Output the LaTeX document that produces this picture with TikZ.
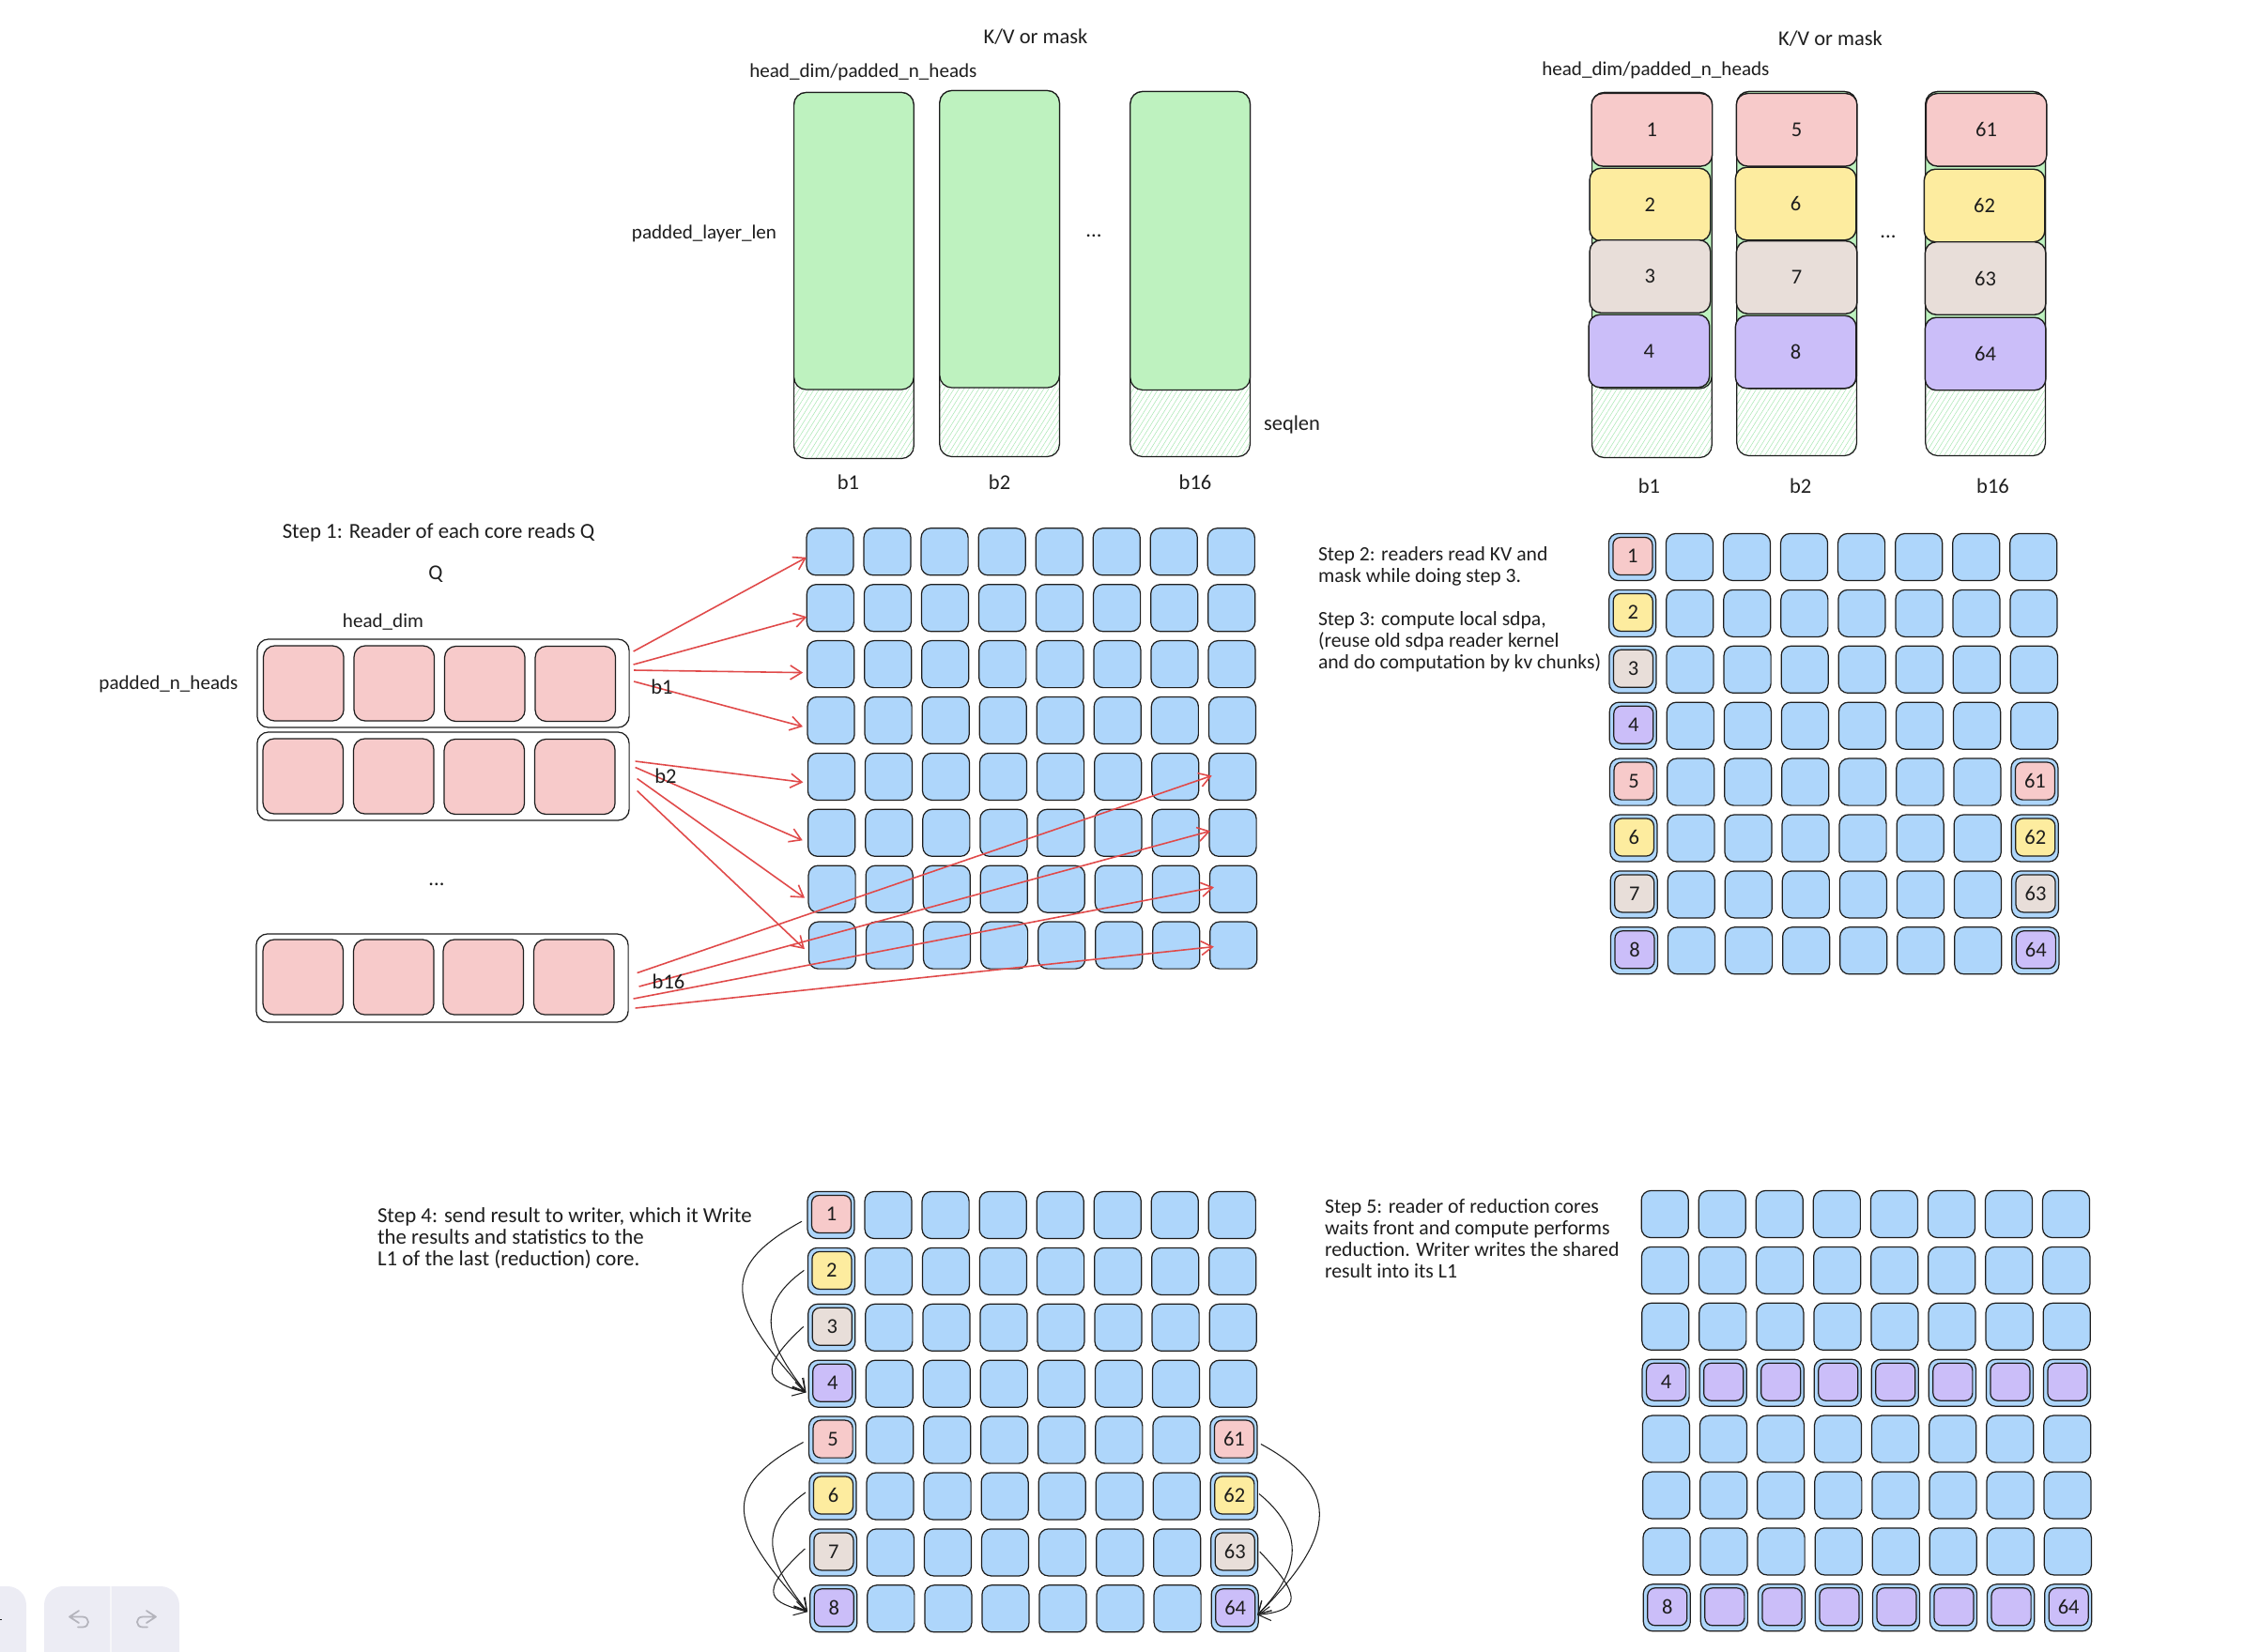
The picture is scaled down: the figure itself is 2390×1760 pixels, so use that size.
\documentclass[tikz,border=0pt]{standalone}
\usepackage{fontspec}
\setmainfont{Carlito}
\usetikzlibrary{arrows.meta,patterns.meta}

\definecolor{inkdark}{HTML}{1E1E1E}
\definecolor{corered}{HTML}{E04A4A}
\definecolor{coreblue}{HTML}{AED6FB}
\definecolor{cpink}{HTML}{F7CACA}
\definecolor{cyellow}{HTML}{FDEC9F}
\definecolor{cgrey}{HTML}{E8DED9}
\definecolor{cpurple}{HTML}{CBBEF9}
\definecolor{cgreen}{HTML}{BEF2BF}
\definecolor{chatch}{HTML}{A8E6B2}
\definecolor{uipanel}{HTML}{ECECF4}
\definecolor{uiicon}{HTML}{B4B4BC}

\newcommand{\coregrid}[4]{%
    \foreach \r in {1,...,8}{
        \foreach \c in {1,...,8}{
            \node[corecell] (#1-\r-\c) at ({#2+25+61.05*(\c-1)+#4*(\r-1)},{#3+25+59.9*(\r-1)}) {};
        }
    }
}

\begin{document}
\begin{tikzpicture}[x=0.01cm,y=-0.01cm,
    every node/.style={text=inkdark,font=\fontsize{6.4}{6.55}\selectfont,inner sep=0pt,outer sep=0pt},
    dimname/.style={font=\fontsize{6}{6.55}\selectfont},
    corecell/.style={draw=inkdark,line width=0.35pt,fill=coreblue,rounded corners=0.1cm,minimum width=0.5cm,minimum height=0.5cm},
    innercell/.style={draw=inkdark,line width=0.35pt,rounded corners=0.08cm,minimum width=0.42cm,minimum height=0.4cm},
    padbar/.style={draw=inkdark,line width=0.35pt,rounded corners=0.13cm,minimum width=1.275cm,pattern={Lines[angle=58,distance=0.045cm,line width=0.15pt]},pattern color=chatch},
    fillbar/.style={draw=inkdark,line width=0.35pt,fill=cgreen,rounded corners=0.13cm,minimum width=1.275cm},
    headblock/.style={draw=inkdark,line width=0.4pt,rounded corners=0.12cm,minimum width=1.285cm,minimum height=0.775cm},
    qouter/.style={draw=inkdark,line width=0.35pt,fill=white,rounded corners=0.12cm,minimum width=3.96cm,minimum height=0.94cm},
    qinner/.style={draw=inkdark,line width=0.35pt,fill=cpink,rounded corners=0.12cm,minimum width=0.855cm,minimum height=0.8cm},
    stepnote/.style={anchor=north west,align=left},
    redarrow/.style={draw=corered,line width=0.45pt,-{Straight Barb[length=1.2mm,width=1.5mm]}},
    inkarrow/.style={draw=inkdark,line width=0.3pt,-{Straight Barb[length=1.3mm,width=1.5mm]}},
    uistroke/.style={draw=uiicon,line width=0.5pt,line cap=round,line join=round}]

    \useasboundingbox (0,0) rectangle (2390,1760);

    % K/V bars, left one empty and right one split in chunks
    \foreach \n/\cx/\ytop/\yfill/\ybot in {kvl1/909.4/98.5/415/488.5,kvl2/1064.6/96.5/413/486.5,kvl3/1267.6/97.5/415.4/486.5,kvr1/1759.4/98.5/414/487.5,kvr2/1913.6/97.5/414/485.5,kvr3/2114.6/97.5/415/485.5}{
        \node[padbar,minimum height={(\ybot-\ytop)*0.01cm}] (\n-pad) at (\cx,{(\ytop+\ybot)/2}) {};
        \node[fillbar,minimum height={(\yfill-\ytop)*0.01cm}] (\n-fill) at (\cx,{(\ytop+\yfill)/2}) {};
    }
    \foreach \txt/\cx/\cy/\colr in {1/1759.4/138.3/cpink,2/1757.4/218/cyellow,3/1757.4/294.5/cgrey,4/1756.4/374/cpurple,
        5/1913.6/138.3/cpink,6/1912.6/217/cyellow,7/1913.6/295.5/cgrey,8/1912.6/375/cpurple,
        61/2115.6/138.3/cpink,62/2113.6/219/cyellow,63/2114.6/296.5/cgrey,64/2114.6/377/cpurple}{
        \node[headblock,fill=\colr] (blk\txt) at (\cx,\cy) {\txt};
    }

    \node (kvl-title) at (1103,38.8) {K/V or mask};
    \node[dimname] (kvl-width) at (919.4,76.6) {head\_dim/padded\_n\_heads};
    \node[dimname] (kvl-len) at (750,248.7) {padded\_layer\_len};
    \node (kvl-dots) at (1165,251.7) {...};
    \node (kvl-seq) at (1376,452) {seqlen};
    \node (kvl-b1) at (903.4,513.4) {b1};
    \node (kvl-b2) at (1064.6,513.4) {b2};
    \node (kvl-b16) at (1273,513.4) {b16};
    \node (kvr-title) at (1949.5,40.8) {K/V or mask};
    \node[dimname] (kvr-width) at (1763.4,74.6) {head\_dim/padded\_n\_heads};
    \node (kvr-dots) at (2011,252.7) {...};
    \node (kvr-b1) at (1756.4,517.3) {b1};
    \node (kvr-b2) at (1917.6,517.3) {b2};
    \node (kvr-b16) at (2122.5,517.3) {b16};

    % step 1
    \node[qouter] (qb1) at (472,728) {};
    \node[qouter] (qb2) at (472,827) {};
    \node[qouter] (qb16) at (471,1042) {};
    \foreach \n/\cx/\cy in {a/323.3/728,b/419.8/728,c/516.3/728.5,d/612.8/728.5,e/322.8/827,f/419.3/827,g/515.8/827.5,h/612.3/827.5,i/322.8/1041,j/419.3/1041,k/514.8/1041,l/611.3/1041}{
        \node[qinner] (q\n) at (\cx,\cy) {};
    }
    \coregrid{ga}{859}{562.8}{0.35}
    \foreach \src/\sx/\sy/\dst/\tx/\ty in {qb1/4.5/-34/ga-1-1/0/6,qb1/4.5/-20/ga-2-1/0/9.5,qb1/5/-14/ga-3-1/-4.5/9,qb1/5/-2/ga-4-1/-5/6.6,
        qb2/6.5/-16/ga-5-1/-5/6,qb2/6.5/-9.5/ga-6-1/-6/8,qb2/8.5/2.5/ga-7-1/-4/9.5,qb2/8.5/15.5/ga-8-1/-4.5/4,
        qb16/9.5/-5.5/ga-5-8/3/-1,qb16/11.5/9/ga-6-8/1/-2,qb16/5.5/22/ga-7-8/4.5/-2,qb16/7.5/32/ga-8-8/4/1.5}{
        \draw[redarrow] ([shift={(\sx,\sy)}]\src.east) -- ([shift={(\tx,\ty)}]\dst.west);
    }
    \node[font=\fontsize{6.5}{6.55}\selectfont] (step1) at (467,567) {Step 1: Reader of each core reads Q};
    \node (qname) at (464,611.5) {Q};
    \node[dimname] (qwidth) at (408,663) {head\_dim};
    \node[dimname] (qheight) at (179.5,729) {padded\_n\_heads};
    \node (qb1-name) at (705,732) {b1};
    \node (qb2-name) at (709,826.5) {b2};
    \node (qdots) at (465,942) {...};
    \node (qb16-name) at (712,1046) {b16};

    % step 2 and 3
    \coregrid{gb}{1713.4}{568.5}{0.3}
    \node[stepnote,font=\fontsize{6.15}{6.55}\selectfont] (step23) at (1404,582) {Step 2: readers read KV and\\mask while doing step 3.\\[0.23cm]Step 3: compute local sdpa,\\(reuse old sdpa reader kernel\\and do computation by kv chunks)};

    % step 4
    \coregrid{gc}{860}{1269.5}{0.4}
    \foreach \g in {gb,gc}{
        \foreach \r/\c/\txt/\colr in {1/1/1/cpink,2/1/2/cyellow,3/1/3/cgrey,4/1/4/cpurple,5/1/5/cpink,6/1/6/cyellow,7/1/7/cgrey,8/1/8/cpurple,5/8/61/cpink,6/8/62/cyellow,7/8/63/cgrey,8/8/64/cpurple}{
            \node[innercell,fill=\colr] (\g-in\txt) at ([shift={(0.5,-1)}]\g-\r-\c) {\txt};
        }
    }
    \node[stepnote,font=\fontsize{6.5}{6.55}\selectfont] (step4) at (402,1286.5) {Step 4: send result to writer, which it Write\\the results and statistics to the\\L1 of the last (reduction) core.};
    \foreach \s/\sy/\e/\ey in {1/6.7/4/9.3,5/2.4/8/3.4}{
        \draw[inkarrow] ([shift={(-6,\sy)}]gc-\s-1.west) .. controls +(-90,49) and +(-84,-93) .. ([shift={(-2.7,\ey)}]gc-\e-1.west);
    }
    \foreach \s/\sy/\e/\ey in {2/-1/4/9.3,6/-4/8/3.4}{
        \draw[inkarrow] ([shift={(-4,\sy)}]gc-\s-1.west) .. controls +(-52,37) and +(-44,-56) .. ([shift={(-2.7,\ey)}]gc-\e-1.west);
    }
    \foreach \s/\sy/\e/\ey in {3/-1/4/9.3,7/-4/8/3.4}{
        \draw[inkarrow] ([shift={(-5,\sy)}]gc-\s-1.west) .. controls +(-54.5,50) and +(-37,-10) .. ([shift={(-2.7,\ey)}]gc-\e-1.west);
    }
    \draw[inkarrow] ([shift={(4,4.4)}]gc-5-8.east) .. controls +(83,45) and +(88,-87) .. ([shift={(-1,6.7)}]gc-8-8.east);
    \draw[inkarrow] ([shift={(1.7,-2.5)}]gc-6-8.east) .. controls +(47,39) and +(49,-50) .. ([shift={(-1,6.7)}]gc-8-8.east);
    \draw[inkarrow] ([shift={(2,-0.7)}]gc-7-8.east) .. controls +(43,45) and +(49,-5) .. ([shift={(-1,6.7)}]gc-8-8.east);

    % step 5
    \coregrid{gd}{1748.2}{1268.5}{0.3}
    \foreach \r/\c/\txt in {4/1/4,4/2/,4/3/,4/4/,4/5/,4/6/,4/7/,4/8/,8/1/8,8/2/,8/3/,8/4/,8/5/,8/6/,8/7/,8/8/64}{
        \node[innercell,fill=cpurple] (gd-in\r-\c) at ([shift={(0.5,-1)}]gd-\r-\c) {\txt};
    }
    \node[stepnote,font=\fontsize{6.2}{6.55}\selectfont] (step5) at (1411,1277) {Step 5: reader of reduction cores\\waits front and compute performs\\reduction. Writer writes the shared\\result into its L1};

    % toolbar at the bottom edge
    \fill[uipanel,rounded corners=0.2cm] (-40,1690) rectangle (28,1790);
    \fill[uipanel,rounded corners=0.2cm] (47,1690) rectangle (191,1790);
    \draw[white!50!uipanel,line width=0.3pt] (118,1690) -- (118,1760);
    \draw[inkdark,line width=0.4pt] (0,1725.5) -- (2,1725.5);
    \draw[uistroke] (84,1716) -- (74,1722.5) -- (84,1729) (74,1722.5) -- (88,1722.5) .. controls (96,1722.5) and (96,1733.5) .. (88,1733.5) -- (83,1733.5);
    \draw[uistroke] (156,1716) -- (166,1722.5) -- (156,1729) (166,1722.5) -- (152,1722.5) .. controls (144,1722.5) and (144,1733.5) .. (152,1733.5) -- (157,1733.5);
\end{tikzpicture}
\end{document}
